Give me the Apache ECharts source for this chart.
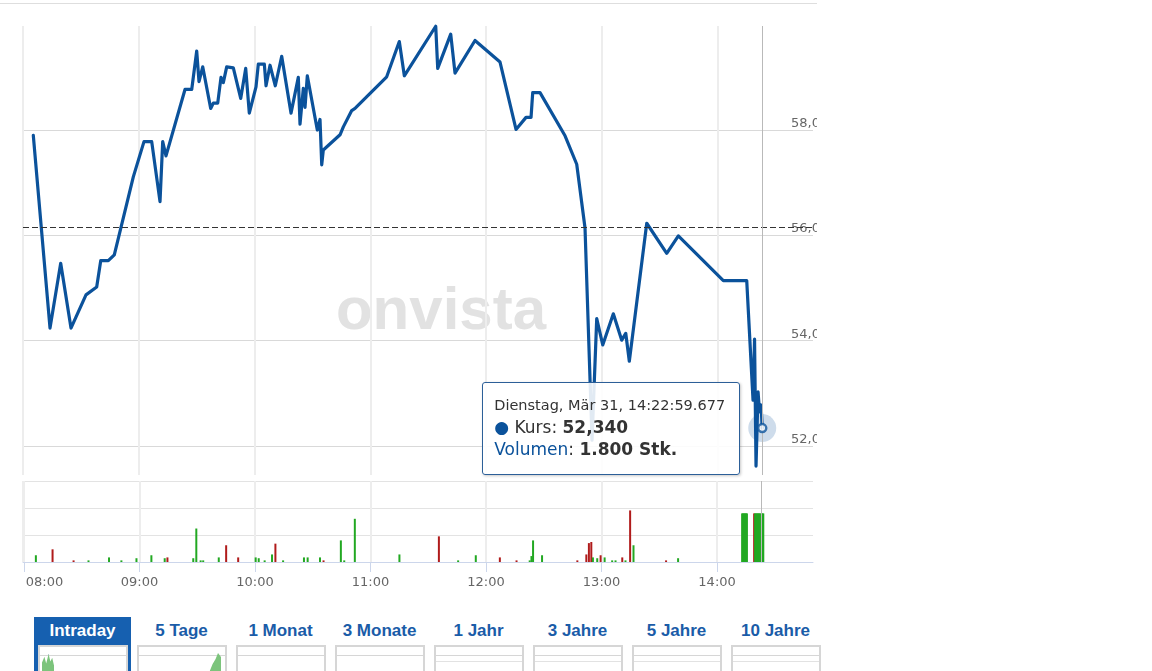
<!DOCTYPE html>
<html><head><meta charset="utf-8">
<script src="https://cdn.jsdelivr.net/npm/echarts@6/dist/echarts.min.js"></script>
<style>
body{margin:0;background:#fff;width:1152px;height:671px;overflow:hidden;position:relative;font-family:'DejaVu Sans',sans-serif;}
#topline{position:absolute;left:0;top:3px;width:817px;height:1px;background:#dedede;}
#chart{position:absolute;left:0;top:0;width:817px;height:600px;}
#tip{position:absolute;box-sizing:border-box;width:258px;height:93px;background:rgba(255,255,255,0.88);border:1px solid #2c5f98;border-radius:3px;box-shadow:1px 1px 3px rgba(0,0,0,0.22);padding:13px 11px 0 11px;color:#333;font-family:'DejaVu Sans',sans-serif;white-space:nowrap;}
#tip .h{font-size:14.5px;line-height:18px;}
#tip .k{font-size:17px;line-height:27px;}
#tip .v{font-size:17px;line-height:17px;}
#tip .blue{color:#0b529b;}
.tab{position:absolute;top:617px;width:97px;height:54px;}
.tab .lbl{height:28px;line-height:28px;text-align:center;font-weight:bold;font-size:17px;font-family:'Liberation Sans Narrow','Liberation Sans',sans-serif;color:#1a5ca8;}
.tab.sel{background:#1660b0;}
.tab.sel .lbl{color:#fff;}
.tab .thumb{position:absolute;top:28px;left:4px;width:90px;height:30px;border:2px solid #d6d6d6;box-sizing:border-box;background:#fff;overflow:hidden;}
.tab .thumb .gl{position:absolute;left:0;right:0;top:8px;height:1px;background:#d6d6d6;}
.tab .thumb .gl2{position:absolute;left:0;right:0;top:14px;height:1px;background:#e2e2e2;}
</style>
</head><body>
<div id="topline"></div>
<div id="chart"></div>
<div id="tip"></div>
<div id="tabs"></div>
<script>
// ---- price series (intraday, 31.03.2020) ----
const priceTimes = [
 '08:05:20','08:14:00','08:19:32','08:24:52','08:32:38','08:38:11','08:40:16','08:44:12','08:47:18','08:57:09',
 '09:02:41','09:06:41','09:10:59','09:12:23','09:14:05','09:23:56','09:27:25','09:30:00','09:31:11','09:33:07',
 '09:37:15','09:38:36','09:40:53','09:42:35','09:43:47','09:45:32','09:48:58','09:52:48','09:55:23','09:57:15',
 '10:00:43','10:01:55','10:05:02','10:05:55','10:07:59','10:10:43','10:14:02','10:18:52','10:22:38','10:23:31',
 '10:25:14','10:26:07','10:27:18','10:32:29','10:33:53','10:34:46','10:35:35','10:44:15','10:45:58','10:50:19',
 '10:52:01','11:08:26','11:14:58','11:17:34','11:33:50','11:34:52','11:41:36','11:43:50','11:54:11','12:07:09',
 '12:15:26','12:20:37','12:23:13','12:24:05','12:27:52','12:40:50','12:46:53','12:51:11','12:54:49','12:57:15',
 '13:00:22','13:05:51','13:10:12','13:12:17','13:14:08','13:23:10','13:33:31','13:39:32','14:02:51','14:14:58',
 '14:18:14','14:19:01','14:19:47','14:20:50','14:21:36','14:22:23','14:22:59.677'
];
const priceValues = [
 57.90,54.24,55.47,54.24,54.87,55.02,55.52,55.52,55.63,57.11,
 57.78,57.78,56.64,57.78,57.51,58.77,58.77,59.50,58.92,59.20,
 58.41,58.51,58.51,59.00,58.90,59.20,59.18,58.60,59.17,58.32,
 58.82,59.25,59.25,58.84,59.23,58.84,59.40,58.32,59.00,58.11,
 58.79,58.43,59.03,58.00,58.20,57.34,57.62,57.91,58.06,58.37,
 58.41,59.01,59.68,59.03,59.97,59.17,59.82,59.08,59.70,59.29,
 58.01,58.24,58.24,58.71,58.71,57.89,57.35,56.14,52.11,54.42,
 53.92,54.51,54.01,54.14,53.61,56.23,55.66,55.99,55.14,55.14,
 52.87,54.03,51.62,53.03,52.65,52.78,52.34
];
// ---- volume series ----
const volTimes = [
 '08:06:10','08:14:50','08:25:45','08:33:30','08:44:10','08:50:35','08:58:25','09:06:10',
 '09:13:05','09:14:30','09:27:55','09:29:30','09:31:45','09:33:05','09:41:10','09:45:00',
 '09:51:15','10:00:20','10:01:55','10:05:00','10:08:50','10:10:35','10:14:35','10:25:25',
 '10:27:20','10:33:45','10:35:35','10:44:35','10:46:20','10:51:50','11:15:00','11:35:30',
 '11:45:30','11:54:40','12:07:10','12:15:50','12:22:40','12:23:35','12:24:25','12:29:05',
 '12:47:25','12:52:05','12:53:25','12:54:40','12:55:30','12:57:45','12:59:30','13:01:35',
 '13:05:30','13:07:15','13:10:45','13:12:25','13:14:50','13:16:35','13:33:30','13:39:45',
 '14:13:00','14:13:30','14:14:00','14:14:30','14:15:00','14:15:30','14:19:15','14:19:45',
 '14:20:15','14:20:45','14:21:15','14:21:45','14:22:15','14:22:59.677','14:23:30','14:24:00'
];
const volValues = [
 250,470,60,60,170,60,140,250,
 140,170,140,1240,60,60,170,620,
 170,170,140,60,280,680,60,170,
 170,170,60,800,60,1600,280,950,
 60,250,170,60,60,220,800,250,
 60,280,700,740,170,140,250,170,
 60,60,170,60,1910,620,60,140,
 1800,1800,1800,1800,1800,1800,1800,1800,
 1800,1800,1800,1800,1800,1800,1800,1800
];
const volUp = [
 1,0,0,1,1,1,1,1,
 1,0,1,1,1,1,1,0,
 0,1,1,1,1,0,1,1,
 1,1,0,1,1,1,1,0,
 1,1,0,0,1,1,1,1,
 0,0,0,0,1,1,0,1,
 1,1,0,1,0,1,0,1,
 1,1,1,1,1,1,0,1,
 1,1,1,1,1,1,1,1
];
const prevClose = 56.145;
const priceTicks = [52, 54, 56, 58];
const axisStart = '08:00:00';
const axisEnd = '14:49:18';
const tabNames = ['Intraday','5 Tage','1 Monat','3 Monate','1 Jahr','3 Jahre','5 Jahre','10 Jahre'];

function ts(s){
  const p = s.split(':');
  const sec = parseFloat(p[2]);
  return new Date(2020, 2, 31, +p[0], +p[1], Math.floor(sec), Math.round((sec % 1) * 1000)).getTime();
}
const pad = (n, l) => String(n).padStart(l || 2, '0');
const BLUE = '#0b529b';
const priceData = priceTimes.map((t, i) => [ts(t), priceValues[i]]);
const volData = volTimes.map((t, i) => ({value: [ts(t), volValues[i]], itemStyle: {color: volUp[i] ? '#22a822' : '#b01b1b'}}));
const lastIdx = priceData.length - 1;
const lastT = priceData[lastIdx][0], lastP = priceData[lastIdx][1];
const lastVol = volValues[volTimes.indexOf(priceTimes[lastIdx])];
const xMin = ts(axisStart), xMax = ts(axisEnd);

const chart = echarts.init(document.getElementById('chart'), null, {renderer: 'canvas'});
const xCommon = {type: 'time', min: xMin, max: xMax, minInterval: 3600000, maxInterval: 3600000};
const gridCommon = {containLabel: false, outerBoundsMode: 'none'};
const vSplit = {show: true, showMaxLine: false, lineStyle: {color: '#ededed', width: 2}};
const option = {
  animation: false,
  textStyle: {fontFamily: 'DejaVu Sans'},
  grid: [
    Object.assign({left: 23, top: 26, width: 790, height: 449}, gridCommon),
    Object.assign({left: 23, top: 481, width: 790, height: 81}, gridCommon)
  ],
  graphic: [{
    type: 'text', x: 441, y: 312, z: 0, silent: true,
    style: {text: 'onvista', align: 'center', textAlign: 'center', verticalAlign: 'middle', textVerticalAlign: 'middle',
            font: 'bold 60px "Liberation Sans"', fill: '#e2e2e2'}
  }],
  xAxis: [
    Object.assign({}, xCommon, {gridIndex: 0, axisLine: {show: false}, axisTick: {show: false}, axisLabel: {show: false},
      splitLine: vSplit}),
    Object.assign({}, xCommon, {gridIndex: 1, axisLine: {show: true, lineStyle: {color: '#ccd6eb', width: 1}},
      axisTick: {show: true, length: 10, lineStyle: {color: '#ccd6eb'}},
      axisLabel: {color: '#666', fontSize: 13, margin: 14, showMaxLabel: false,
        formatter: function (v) {
          const d = new Date(v);
          const s = pad(d.getHours()) + ':' + pad(d.getMinutes());
          return v === xMin ? '{f|' + s + '}' : s;
        },
        rich: {f: {color: '#666', fontSize: 13, padding: [0, 0, 0, 41]}}},
      splitLine: vSplit})
  ],
  yAxis: [
    {type: 'value', gridIndex: 0, position: 'right', min: 51.45, max: 59.975, scale: true,
     axisLine: {show: false}, axisTick: {show: false, customValues: priceTicks},
     axisLabel: {customValues: priceTicks, inside: true, align: 'left', verticalAlign: 'bottom', margin: 22, color: '#666', fontSize: 13,
       formatter: v => v.toFixed(2).replace('.', ',')},
     splitLine: {show: true, lineStyle: {color: '#d9d9d9', width: 1}}},
    {type: 'value', gridIndex: 1, min: 0, max: 3000, interval: 1000,
     axisLine: {show: false}, axisTick: {show: false}, axisLabel: {show: false},
     splitLine: {show: true, lineStyle: {color: '#e3e3e3', width: 1}}}
  ],
  series: [
    {type: 'line', xAxisIndex: 0, yAxisIndex: 0, data: priceData, showSymbol: false, clip: false, z: 3,
     lineStyle: {color: BLUE, width: 3.2, join: 'round', cap: 'round'},
     markLine: {silent: true, symbol: 'none', animation: false, label: {show: false},
       data: [
         {yAxis: prevClose, lineStyle: {type: [6, 3], color: '#333', width: 1}},
         {xAxis: lastT, lineStyle: {type: 'solid', color: '#b9b9b9', width: 1}}
       ]}},
    {type: 'scatter', xAxisIndex: 0, yAxisIndex: 0, data: [[lastT, lastP]], symbolSize: 28, z: 4, silent: true,
     itemStyle: {color: 'rgba(11,82,155,0.25)'}},
    {type: 'scatter', xAxisIndex: 0, yAxisIndex: 0, data: [[lastT, lastP]], symbolSize: 8, z: 5, silent: true,
     itemStyle: {color: '#fff', borderColor: BLUE, borderWidth: 2.5}},
    {type: 'bar', xAxisIndex: 1, yAxisIndex: 1, data: volData, barWidth: 2, z: 3,
     markLine: {silent: true, symbol: 'none', animation: false, label: {show: false},
       data: [{xAxis: lastT, lineStyle: {type: 'solid', color: '#b9b9b9', width: 1}}]}}
  ]
};
chart.setOption(option);

// tooltip box
const days = ['Sonntag','Montag','Dienstag','Mittwoch','Donnerstag','Freitag','Samstag'];
const months = ['Jan','Feb','Mär','Apr','Mai','Jun','Jul','Aug','Sep','Okt','Nov','Dez'];
const d = new Date(lastT);
const head = days[d.getDay()] + ', ' + months[d.getMonth()] + ' ' + d.getDate() + ', ' +
  pad(d.getHours()) + ':' + pad(d.getMinutes()) + ':' + pad(d.getSeconds()) + '.' + pad(d.getMilliseconds(), 3);
const tip = document.getElementById('tip');
tip.innerHTML = '<div class="h">' + head + '</div>' +
  '<div class="k"><span class="blue">\u25CF</span> Kurs: <b>' + lastP.toFixed(3).replace('.', ',') + '</b></div>' +
  '<div class="v"><span class="blue">Volumen</span>: <b>' + lastVol.toLocaleString('de-DE') + ' Stk.</b></div>';
const px = chart.convertToPixel({xAxisIndex: 0, yAxisIndex: 0}, [lastT, lastP]);
tip.style.left = (px[0] - 280) + 'px';
tip.style.top = (px[1] - 46) + 'px';

// tabs
const tabs = document.getElementById('tabs');
tabNames.forEach((n, i) => {
  const t = document.createElement('div');
  t.className = 'tab' + (i === 0 ? ' sel' : '');
  t.style.left = (34 + 99 * i) + 'px';
  let inner = '<div class="gl"></div>';
  if (i >= 4) inner += '<div class="gl2"></div>';
  if (i === 0) inner += '<div style="position:absolute;left:2px;bottom:0;width:12px;height:18px;background:#7cc47c;border-top:1px solid #2f6fa8;clip-path:polygon(0 100%,0 45%,20% 15%,35% 50%,55% 0,70% 40%,85% 20%,100% 60%,100% 100%)"></div>';
  if (i === 1) inner += '<div style="position:absolute;right:4px;bottom:0;width:12px;height:20px;background:#7cc47c;clip-path:polygon(0 100%,30% 55%,55% 30%,75% 0,100% 20%,100% 100%)"></div>';
  t.innerHTML = '<div class="lbl">' + n + '</div><div class="thumb">' + inner + '</div>';
  tabs.appendChild(t);
});
</script>
</body></html>
